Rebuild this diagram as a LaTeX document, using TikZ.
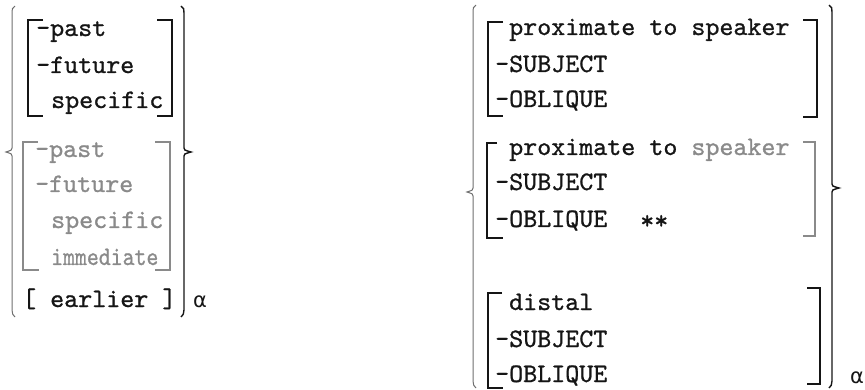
\documentclass[tikz,border=0pt]{standalone}
\usepackage{fontspec}
\newfontfamily\tw{lmmono10-regular.otf}[FakeBold=0.9]
\newfontfamily\grk{DejaVu Sans}
\definecolor{ink}{HTML}{151515}
\definecolor{fade}{HTML}{8A8A8A}
\definecolor{bracegray}{HTML}{6E6E6E}
\begin{document}
\begin{tikzpicture}[x=1pt,y=-1pt,
  txt/.style={anchor=base west, inner sep=0pt, font=\tw\fontsize{26.7}{30}\selectfont, text=ink},
  ftxt/.style={txt, text=fade},
  alf/.style={anchor=base west, inner sep=0pt, font=\grk\fontsize{21}{24}\selectfont, text=ink},
  brk/.style={line width=1.3pt, draw=ink},
  fbrk/.style={line width=1.1pt, draw=fade},
  lbr/.style={line width=1pt, draw=bracegray},
  rbr/.style={line width=1.4pt, draw=ink}]
\useasboundingbox (0,0) rectangle (865,390);

% ---------- left group ----------
\draw[lbr] (15,6) .. controls (12,7) and (12,10) .. (12,13) -- (12,148)
  .. controls (12,150) .. (6,152) .. controls (12,154) .. (12,156) -- (12,310)
  .. controls (12,313) and (13,316) .. (15,317);
\draw[rbr] (181,6) .. controls (184,7) and (184,10) .. (184,13) -- (184,148)
  .. controls (184,150) .. (191,152) .. controls (184,154) .. (184,156) -- (184,310)
  .. controls (184,313) and (183,316) .. (181,317);
\draw[brk] (43,20) -- (28,20) -- (28,116) -- (43,116);
\draw[brk] (157,20) -- (172,20) -- (172,116) -- (157,116);
\node[txt] (lp) at (36,36) {–past};
\node[txt] (lf) at (36,73) {–future};
\node[txt] (ls) at (51,108) {specific};
\draw[fbrk] (38,142) -- (23,142) -- (23,270) -- (39,270);
\draw[fbrk] (155,142) -- (170,142) -- (170,270) -- (155,270);
\node[ftxt] (gp) at (35,157) {–past};
\node[ftxt] (gf) at (35,192) {–future};
\node[ftxt] (gs) at (51,228) {specific};
\node[ftxt] (gi) at (51,265) {\scalebox{0.85}[1]{immediate}};
\node[txt] (le) at (22,307) {[ earlier ]};
\node[alf] (la) at (193,307) {α};

% ---------- right group ----------
\draw[lbr] (476,5) .. controls (473,6) and (473,9) .. (473,12) -- (473,188)
  .. controls (473,190) .. (467,192) .. controls (473,194) .. (473,196) -- (473,381)
  .. controls (473,384) and (474,387) .. (476,388);
\draw[rbr] (829,5) .. controls (832,6) and (832,9) .. (832,12) -- (832,184)
  .. controls (832,186) .. (839,188) .. controls (832,190) .. (832,192) -- (832,381)
  .. controls (832,384) and (831,387) .. (829,388);
\draw[brk] (503,22) -- (488,22) -- (488,116) -- (503,116);
\draw[brk] (803,20) -- (817,20) -- (817,117) -- (803,117);
\node[txt] (a1) at (509,35) {proximate to speaker};
\node[txt] (a2) at (495,72) {–SUBJECT};
\node[txt] (a3) at (495,107) {–OBLIQUE};
\draw[brk] (497,143) -- (487,143) -- (487,238) -- (503,238);
\draw[fbrk] (803,142) -- (815,142) -- (815,236) -- (803,236);
\node[txt] (b1) at (509,155) {proximate to \textcolor{fade}{speaker}};
\node[txt] (b2) at (495,190) {–SUBJECT};
\node[txt] (b3) at (495,227) {–OBLIQUE};
\node[txt] (b4) at (640,229) {**};
\draw[brk] (502,293) -- (488,293) -- (488,388) -- (503,388);
\draw[brk] (807,288) -- (820,288) -- (820,384) -- (807,384);
\node[txt] (c1) at (509,310) {distal};
\node[txt] (c2) at (495,347) {–SUBJECT};
\node[txt] (c3) at (495,382) {–OBLIQUE};
\node[alf] (ra) at (850,383) {α};
\end{tikzpicture}
\end{document}
